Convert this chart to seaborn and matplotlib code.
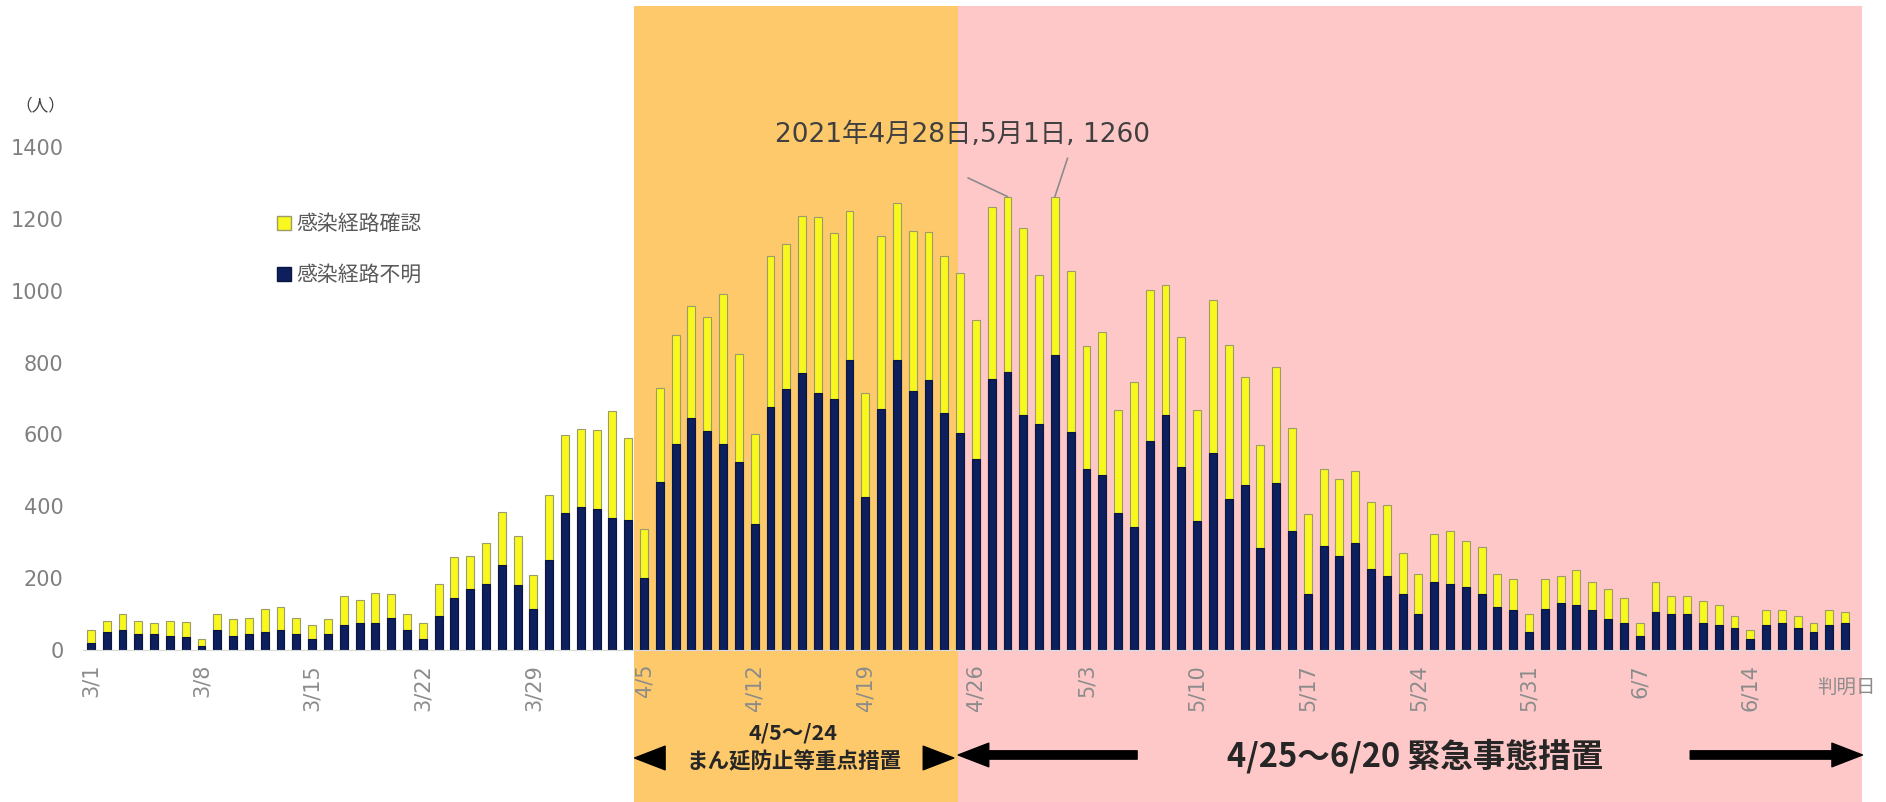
import numpy as np
import pandas as pd
import matplotlib.pyplot as plt
import matplotlib.transforms as mtransforms
from matplotlib.patches import Patch, Rectangle
import seaborn as sns

# daily counts 3/1 - 6/20
days = pd.date_range('2021-03-01', '2021-06-20')

total_mar = [55, 80, 100, 80, 75, 80, 78, 30, 100, 85, 90, 115, 120, 90, 70, 85,
             150, 140, 160, 155, 100, 75, 185, 260, 262, 298, 385, 318, 210, 432, 598]
unknown_mar = [20, 50, 55, 45, 45, 40, 35, 10, 55, 40, 45, 50, 55, 45, 30, 45,
               70, 75, 75, 90, 55, 30, 95, 145, 170, 185, 237, 180, 115, 250, 380]
total_apr = [616, 611, 666, 591, 337, 729, 877, 958, 927, 992, 824, 601, 1097, 1130, 1209,
             1204, 1162, 1221, 715, 1151, 1244, 1167, 1163, 1097, 1048, 919, 1232, 1260, 1174, 1044]
unknown_apr = [399, 392, 367, 362, 200, 467, 572, 647, 610, 574, 523, 350, 675, 726, 772,
               715, 698, 808, 427, 672, 808, 722, 752, 661, 605, 531, 754, 775, 654, 628]
total_may = [1260, 1055, 847, 886, 669, 746, 1003, 1015, 870, 669, 975, 848, 760, 570, 787, 617,
             379, 504, 475, 497, 411, 403, 269, 212, 323, 330, 304, 287, 212, 197, 100]
unknown_may = [822, 606, 505, 487, 382, 343, 583, 654, 508, 359, 548, 419, 459, 283, 465, 331,
               155, 290, 262, 297, 225, 205, 155, 100, 190, 185, 175, 155, 120, 110, 50]
total_jun = [197, 207, 223, 190, 170, 145, 75, 190, 150, 150, 135, 125, 95, 55, 110, 110,
             95, 75, 110, 105]
unknown_jun = [115, 130, 125, 110, 85, 75, 40, 105, 100, 100, 75, 70, 60, 30, 70, 75,
               60, 50, 70, 75]

labels = ['感染経路確認', '感染経路不明']

df = pd.DataFrame({
    'date': [f'{d.month}/{d.day}' for d in days],
    'total': total_mar + total_apr + total_may + total_jun,
    'unknown': unknown_mar + unknown_apr + unknown_may + unknown_jun,
})

yellow = '#F8F81E'
navy = '#0D1F5C'
orange_bg = '#FEC96A'
pink_bg = '#FFC8C8'

sns.set_style('white')
plt.rcParams['font.family'] = ['DejaVu Sans', 'Noto Sans CJK JP']

W, H = 1886, 802
fig = plt.figure(figsize=(W / 100, H / 100), dpi=100)
ax = fig.add_axes([83 / W, 1 - 650 / H, 1770 / W, 503 / H])
ax.set_facecolor('none')

# stacked bars: total (yellow) behind, unknown (navy) in front
sns.barplot(data=df, x='date', y='total', color=yellow, edgecolor='#9c9c6a',
            linewidth=0.8, width=0.5, saturation=1, ax=ax)
sns.barplot(data=df, x='date', y='unknown', color=navy, edgecolor='#0a1640',
            linewidth=0.8, width=0.5, saturation=1, ax=ax)

ax.set_xlim(-0.5, len(df) - 0.5)
ax.set_ylim(0, 1400)
ax.set_yticks(range(0, 1401, 200))
ax.set_xticks(range(0, len(df), 7))
ax.set_xticklabels(df['date'][::7], rotation=90)
ax.tick_params(axis='y', length=0, pad=14, labelsize=15, labelcolor='#808080')
ax.tick_params(axis='x', length=0, pad=10, labelsize=15, labelcolor='#8c8c8c')
ax.set_xlabel('')
ax.set_ylabel('')
for s in ['top', 'right', 'left']:
    ax.spines[s].set_visible(False)
ax.spines['bottom'].set_color('#d9d9d9')

# background periods
blend = mtransforms.blended_transform_factory(ax.transData, fig.transFigure)
fig.add_artist(Rectangle((34.37, 0), 54.85 - 34.37, 0.9925, transform=blend,
                         facecolor=orange_bg, edgecolor='none', zorder=-2))
fig.add_artist(Rectangle((54.85, 0), 112.1 - 54.85, 0.9925, transform=blend,
                         facecolor=pink_bg, edgecolor='none', zorder=-2))

# legend
handles = [Patch(facecolor=yellow, edgecolor='#9c9c6a'), Patch(facecolor=navy, edgecolor='#0a1640')]
ax.legend(handles, labels, loc='upper left', bbox_to_anchor=(277 / W, 1 - 214 / H),
          bbox_transform=fig.transFigure, frameon=False, fontsize=15, labelcolor='#595959',
          handlelength=0.65, handleheight=0.65, handletextpad=0.3, labelspacing=1.5,
          borderpad=0, borderaxespad=0)

fig.text(15 / W, 1 - 105 / H, '（人）', fontsize=12, color='#404040', va='center')
ax.text(111.1, -0.076, '判明日', transform=mtransforms.blended_transform_factory(ax.transData, ax.transAxes),
        fontsize=14, color='#8c8c8c', ha='center', va='center')

# peak annotation
ax.text(43.3, 1434, '2021年4月28日,5月1日, 1260', fontsize=19, color='#404040', va='center')
ax.annotate('', xy=(58, 1262), xytext=(55.5, 1314),
            arrowprops=dict(arrowstyle='-', color='#8c8c8c', lw=1.2, shrinkA=0, shrinkB=0))
ax.annotate('', xy=(61, 1262), xytext=(61.8, 1369),
            arrowprops=dict(arrowstyle='-', color='#8c8c8c', lw=1.2, shrinkA=0, shrinkB=0))

# period arrows under the axis
arrow = dict(arrowstyle='simple,head_length=22,head_width=17,tail_width=6',
             mutation_scale=1, color='black', shrinkA=0, shrinkB=0)
xc = ('data', 'axes fraction')
for tail, tip in [(36.3, 34.4), (52.7, 54.6)]:
    ax.annotate('', xy=(tip, -0.2147), xytext=(tail, -0.2147), xycoords=xc,
                arrowprops=arrow, annotation_clip=False)
for tail, tip in [(66.2, 54.88), (101.2, 112.1)]:
    ax.annotate('', xy=(tip, -0.2087), xytext=(tail, -0.2087), xycoords=xc,
                arrowprops=arrow, annotation_clip=False)

ax.annotate('4/5～/24', xy=(44.4, -0.165), xycoords=xc, ha='center', va='center',
            fontsize=15.5, fontweight='bold', family=['Noto Sans CJK JP'], annotation_clip=False)
ax.annotate('まん延防止等重点措置', xy=(44.5, -0.2227), xycoords=xc, ha='center', va='center',
            fontsize=15.5, fontweight='bold', family=['Noto Sans CJK JP'], annotation_clip=False)
ax.annotate('4/25～6/20 緊急事態措置', xy=(83.8, -0.212), xycoords=xc, ha='center', va='center',
            fontsize=23.5, fontweight='bold', family=['Noto Sans CJK JP'], annotation_clip=False)

fig.savefig('out.png', dpi=100)
